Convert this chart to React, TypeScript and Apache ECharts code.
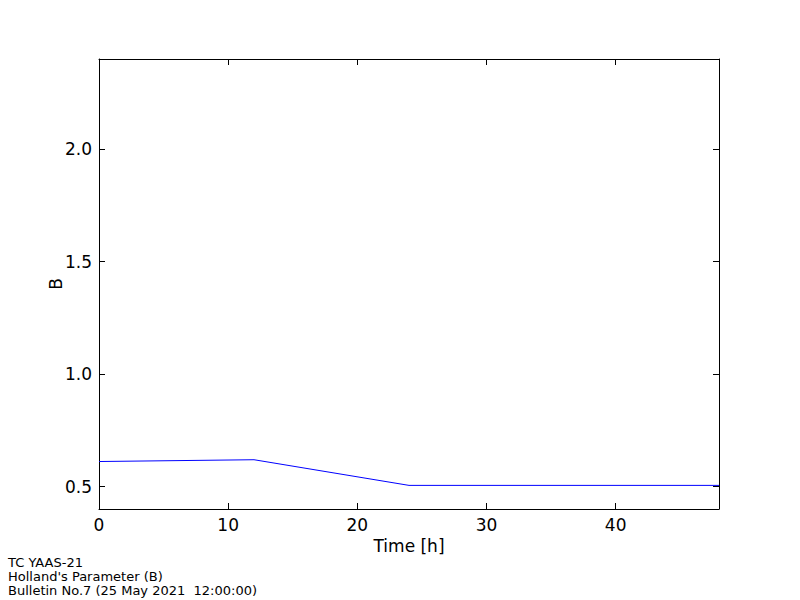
import React, { useEffect, useRef } from "react";
import * as echarts from "echarts";

const hours = [0, 12, 24, 36, 48];
const bValues = [0.611, 0.619, 0.505, 0.505, 0.505];
const xTicks = [0, 10, 20, 30, 40];
const yTicks = [0.5, 1.0, 1.5, 2.0];
const footerLines = [
  "TC YAAS-21",
  "Holland's Parameter (B)",
  "Bulletin No.7 (25 May 2021  12:00:00)",
];

const FONT = "DejaVu Sans";

export default function App() {
  const ref = useRef<HTMLDivElement>(null);
  useEffect(() => {
    if (!ref.current) return;
    const chart = echarts.init(ref.current, null, { renderer: "svg" });
    const tickStyle = { show: true, inside: true, length: 6, lineStyle: { color: "#000", width: 1 } };
    chart.setOption({
      animation: false,
      backgroundColor: "#fff",
      grid: { left: 99, right: 81, top: 59, bottom: 91, show: false },
      xAxis: [
        {
          type: "value",
          min: 0,
          max: 48,
          name: "Time [h]",
          nameLocation: "middle",
          nameGap: 25,
          nameTextStyle: { fontFamily: FONT, fontSize: 17, color: "#000" },
          axisLine: { show: true, lineStyle: { color: "#000", width: 1 } },
          axisTick: { ...tickStyle, customValues: xTicks },
          axisLabel: { customValues: xTicks, fontFamily: FONT, fontSize: 17, color: "#000", margin: 7 },
          splitLine: { show: false },
        },
        {
          type: "value",
          position: "top",
          min: 0,
          max: 48,
          axisLine: { show: true, onZero: false, lineStyle: { color: "#000", width: 1 } },
          axisTick: { ...tickStyle, customValues: xTicks },
          axisLabel: { show: false, customValues: xTicks },
          splitLine: { show: false },
        },
      ],
      yAxis: [
        {
          type: "value",
          min: 0.4,
          max: 2.4,
          name: "B",
          nameLocation: "middle",
          nameGap: 35,
          nameRotate: 90,
          nameMoveOverlap: false,
          nameTextStyle: { fontFamily: FONT, fontSize: 17, color: "#000" },
          axisLine: { show: true, lineStyle: { color: "#000", width: 1 } },
          axisTick: { ...tickStyle, customValues: yTicks },
          axisLabel: {
            customValues: yTicks,
            fontFamily: FONT,
            fontSize: 17,
            color: "#000",
            margin: 7,
            formatter: (v: number) => v.toFixed(1),
          },
          splitLine: { show: false },
        },
        {
          type: "value",
          position: "right",
          min: 0.4,
          max: 2.4,
          axisLine: { show: true, onZero: false, lineStyle: { color: "#000", width: 1 } },
          axisTick: { ...tickStyle, customValues: yTicks },
          axisLabel: { show: false, customValues: yTicks },
          splitLine: { show: false },
        },
      ],
      series: [
        {
          type: "line",
          xAxisIndex: 0,
          yAxisIndex: 0,
          data: hours.map((h, i) => [h, bValues[i]]),
          showSymbol: false,
          lineStyle: { color: "#0000ff", width: 1 },
          itemStyle: { color: "#0000ff" },
        },
      ],
      graphic: footerLines.map((t, i) => ({
        type: "text",
        left: 8,
        top: 556 + i * 14,
        style: { text: t, fontFamily: FONT, fontSize: 13, fill: "#000" },
      })),
    });
    return () => chart.dispose();
  }, []);
  return <div ref={ref} style={{ width: 800, height: 600, position: "absolute", left: 0, top: 0 }} />;
}
